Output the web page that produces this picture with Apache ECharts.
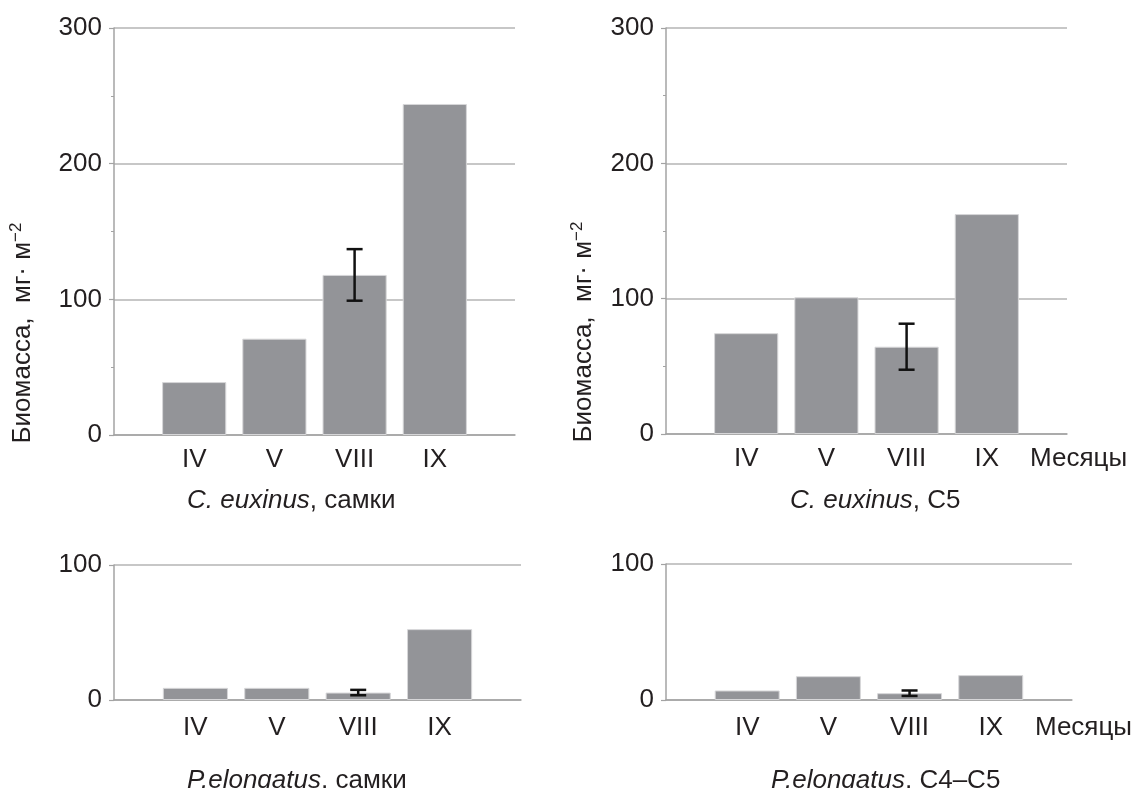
<!DOCTYPE html>
<html><head><meta charset="utf-8">
<script src="https://cdn.jsdelivr.net/npm/echarts@6/dist/echarts.min.js"></script>
<style>html,body{margin:0;padding:0;background:#fff}#c{width:1133px;height:788px}</style>
</head><body><div id="c"></div><script>
// ---- data ----
const months = ['IV', 'V', 'VIII', 'IX'];
const ceFemales = [39, 71, 118, 244];
const ceFemalesErr = [null, null, 19, null];
const ceC5 = [74.5, 101, 64.5, 162.5];
const ceC5Err = [null, null, 17, null];
const peFemales = [9, 9, 5.5, 52.5];
const peFemalesErr = [null, null, 2, null];
const peC4C5 = [7, 17.5, 5, 18.3];
const peC4C5Err = [null, null, 2, null];
const yTicksTop = [0, 100, 200, 300];
const yTicksBottom = [0, 100];
const xAxisName = 'Месяцы';
const yAxisTitle = 'Биомасса,  мг· м';
const yAxisTitleSup = '−2';
const titleSpecies = ['C. euxinus', 'C. euxinus', 'P.elongatus', 'P.elongatus'];
const titleStage = [', самки', ', C5', ', самки', ', C4–C5'];

// ---- layout / style ----
const FONT = '"Liberation Sans", Arial, Helvetica, sans-serif';
const TXT = '#231f20';
const FS = 26;
const BAR = '#939498';
const AXIS = '#a3a3a3';
const GRIDC = '#b5b5b5';

const panels = [
  { grid: {left: 114, top: 28, width: 401, height: 407}, vals: ceFemales, err: ceFemalesErr, ticks: yTicksTop, minor: true, name: false, lm: 12 },
  { grid: {left: 666, top: 28, width: 401, height: 406}, vals: ceC5, err: ceC5Err, ticks: yTicksTop, minor: true, name: true, lm: 12 },
  { grid: {left: 114, top: 565, width: 407, height: 135}, vals: peFemales, err: peFemalesErr, ticks: yTicksBottom, minor: false, name: false, lm: 15 },
  { grid: {left: 666, top: 564, width: 407, height: 136}, vals: peC4C5, err: peC4C5Err, ticks: yTicksBottom, minor: false, name: true, lm: 15 }
];
const titlePos = [
  {left: 187, top: 488}, {left: 790, top: 488}, {left: 187, top: 768}, {left: 771, top: 768}
];
const yNamePos = [{x: 23, y: 333}, {x: 584, y: 332}];

const catData = [''].concat(months, ['']);

const option = {
  animation: false,
  backgroundColor: '#fff',
  textStyle: {fontFamily: FONT},
  grid: panels.map(p => Object.assign({containLabel: false}, p.grid)),
  xAxis: panels.map((p, i) => ({
    type: 'category', gridIndex: i, data: catData, boundaryGap: false,
    axisTick: {show: false},
    axisLine: {show: true, lineStyle: {color: AXIS, width: 1.5}},
    axisLabel: {interval: 0, fontSize: FS, color: TXT, margin: p.lm, fontFamily: FONT},
    splitLine: {show: false},
    name: p.name ? xAxisName : '',
    nameLocation: 'end', nameGap: -37,
    nameTextStyle: {fontSize: FS, color: TXT, fontFamily: FONT, align: 'left', verticalAlign: 'top', padding: [p.lm, 0, 0, 0]}
  })),
  yAxis: panels.map((p, i) => ({
    type: 'value', gridIndex: i, min: p.ticks[0], max: p.ticks[p.ticks.length - 1],
    interval: p.ticks[1] - p.ticks[0],
    axisLine: {show: true, lineStyle: {color: AXIS, width: 1.5}},
    axisTick: {show: true, length: 5, lineStyle: {color: AXIS, width: 1.2}},
    minorTick: {show: p.minor, splitNumber: 2, length: 3, lineStyle: {color: AXIS, width: 1}},
    splitLine: {show: true, lineStyle: {color: GRIDC, width: 1.5}},
    axisLabel: {fontSize: FS, color: TXT, margin: 12, fontFamily: FONT}
  })),
  series: [],
  title: titleSpecies.map((sp, i) => ({
    left: titlePos[i].left, top: titlePos[i].top, padding: 0,
    text: '{i|' + sp + '}{n|' + titleStage[i] + '}',
    textStyle: {
      rich: {
        i: {fontSize: FS, fontStyle: 'italic', color: TXT, fontFamily: FONT, fontWeight: 'normal'},
        n: {fontSize: FS, color: TXT, fontFamily: FONT, fontWeight: 'normal'}
      }
    }
  })),
  graphic: yNamePos.map(pos => ({
    type: 'text', x: pos.x, y: pos.y, rotation: Math.PI / 2,
    style: {
      text: '{a|' + yAxisTitle + '}{s|' + yAxisTitleSup + '}',
      align: 'center', verticalAlign: 'middle',
      rich: {
        a: {fontSize: FS, fill: TXT, fontFamily: FONT, lineHeight: 31},
        s: {fontSize: 17, fill: TXT, fontFamily: FONT, verticalAlign: 'top'}
      }
    }
  }))
};

panels.forEach((p, i) => {
  option.series.push({
    type: 'bar', xAxisIndex: i, yAxisIndex: i,
    data: ['-'].concat(p.vals, ['-']),
    barWidth: '80%',
    itemStyle: {color: BAR, borderColor: '#d6d6d8', borderWidth: 1},
    z: 2
  });
  const errData = [];
  p.vals.forEach((v, k) => {
    if (p.err[k] != null) errData.push([k + 1, v - p.err[k], v + p.err[k]]);
  });
  option.series.push({
    type: 'custom', xAxisIndex: i, yAxisIndex: i, z: 10,
    encode: {x: 0, y: [1, 2]},
    data: errData,
    renderItem: function (params, api) {
      const x = api.value(0);
      const lo = api.coord([x, api.value(1)]);
      const hi = api.coord([x, api.value(2)]);
      const hw = 8;
      const st = {stroke: '#111', lineWidth: 2.5};
      return {type: 'group', children: [
        {type: 'line', shape: {x1: hi[0], y1: hi[1], x2: lo[0], y2: lo[1]}, style: st},
        {type: 'line', shape: {x1: hi[0] - hw, y1: hi[1], x2: hi[0] + hw, y2: hi[1]}, style: st},
        {type: 'line', shape: {x1: lo[0] - hw, y1: lo[1], x2: lo[0] + hw, y2: lo[1]}, style: st}
      ]};
    }
  });
});

const chart = echarts.init(document.getElementById('c'), null, {renderer: 'canvas'});
chart.setOption(option);
</script></body></html>
